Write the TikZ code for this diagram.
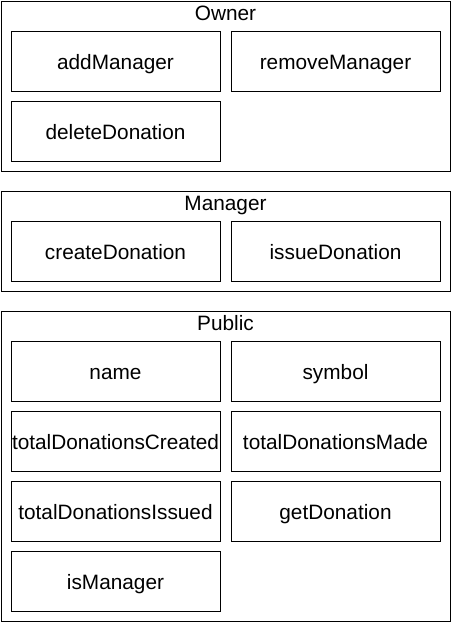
\documentclass[tikz,border=0pt]{standalone}
\usepackage{fontspec}
\setmainfont{Liberation Sans}
\usetikzlibrary{positioning}
\tikzset{
  group/.style={draw=black, line width=1pt, minimum width=449pt, inner sep=0pt},
  grouptitle/.style={inner sep=0pt, text height=20pt, text depth=0pt, font=\fontsize{20.8}{24}\selectfont},
  fnbox/.style={draw=black, line width=1pt, minimum width=209pt, minimum height=60pt, inner sep=0pt, text height=17pt, text depth=0pt, font=\fontsize{20.8}{24}\selectfont}
}
\begin{document}
\begin{tikzpicture}[x=1pt, y=-1pt]
  \useasboundingbox (0,0) rectangle (451,622);
  % Owner
  \node[group, minimum height=170pt] (owner) at (225.5,86) {};
  \node[grouptitle] (ownertitle) at (225.5,10) {Owner};
  \node[fnbox] (addmgr) at (115.5,61) {addManager};
  \node[fnbox] (removemgr) at (335.5,61) {removeManager};
  \node[fnbox] (deletedon) at (115.5,131) {deleteDonation};
  % Manager
  \node[group, minimum height=100pt] (manager) at (225.5,241) {};
  \node[grouptitle] (managertitle) at (225.5,200) {Manager};
  \node[fnbox] (createdon) at (115.5,251) {createDonation};
  \node[fnbox] (issuedon) at (335.5,251) {issueDonation};
  % Public
  \node[group, minimum height=310pt] (public) at (225.5,466) {};
  \node[grouptitle] (publictitle) at (225.5,320) {Public};
  \node[fnbox] (name) at (115.5,371) {name};
  \node[fnbox] (symbol) at (335.5,371) {symbol};
  \node[fnbox] (totalcreated) at (115.5,441) {totalDonationsCreated};
  \node[fnbox] (totalmade) at (335.5,441) {totalDonationsMade};
  \node[fnbox] (totalissued) at (115.5,511) {totalDonationsIssued};
  \node[fnbox] (getdon) at (335.5,511) {getDonation};
  \node[fnbox] (ismgr) at (115.5,581) {isManager};
\end{tikzpicture}
\end{document}
